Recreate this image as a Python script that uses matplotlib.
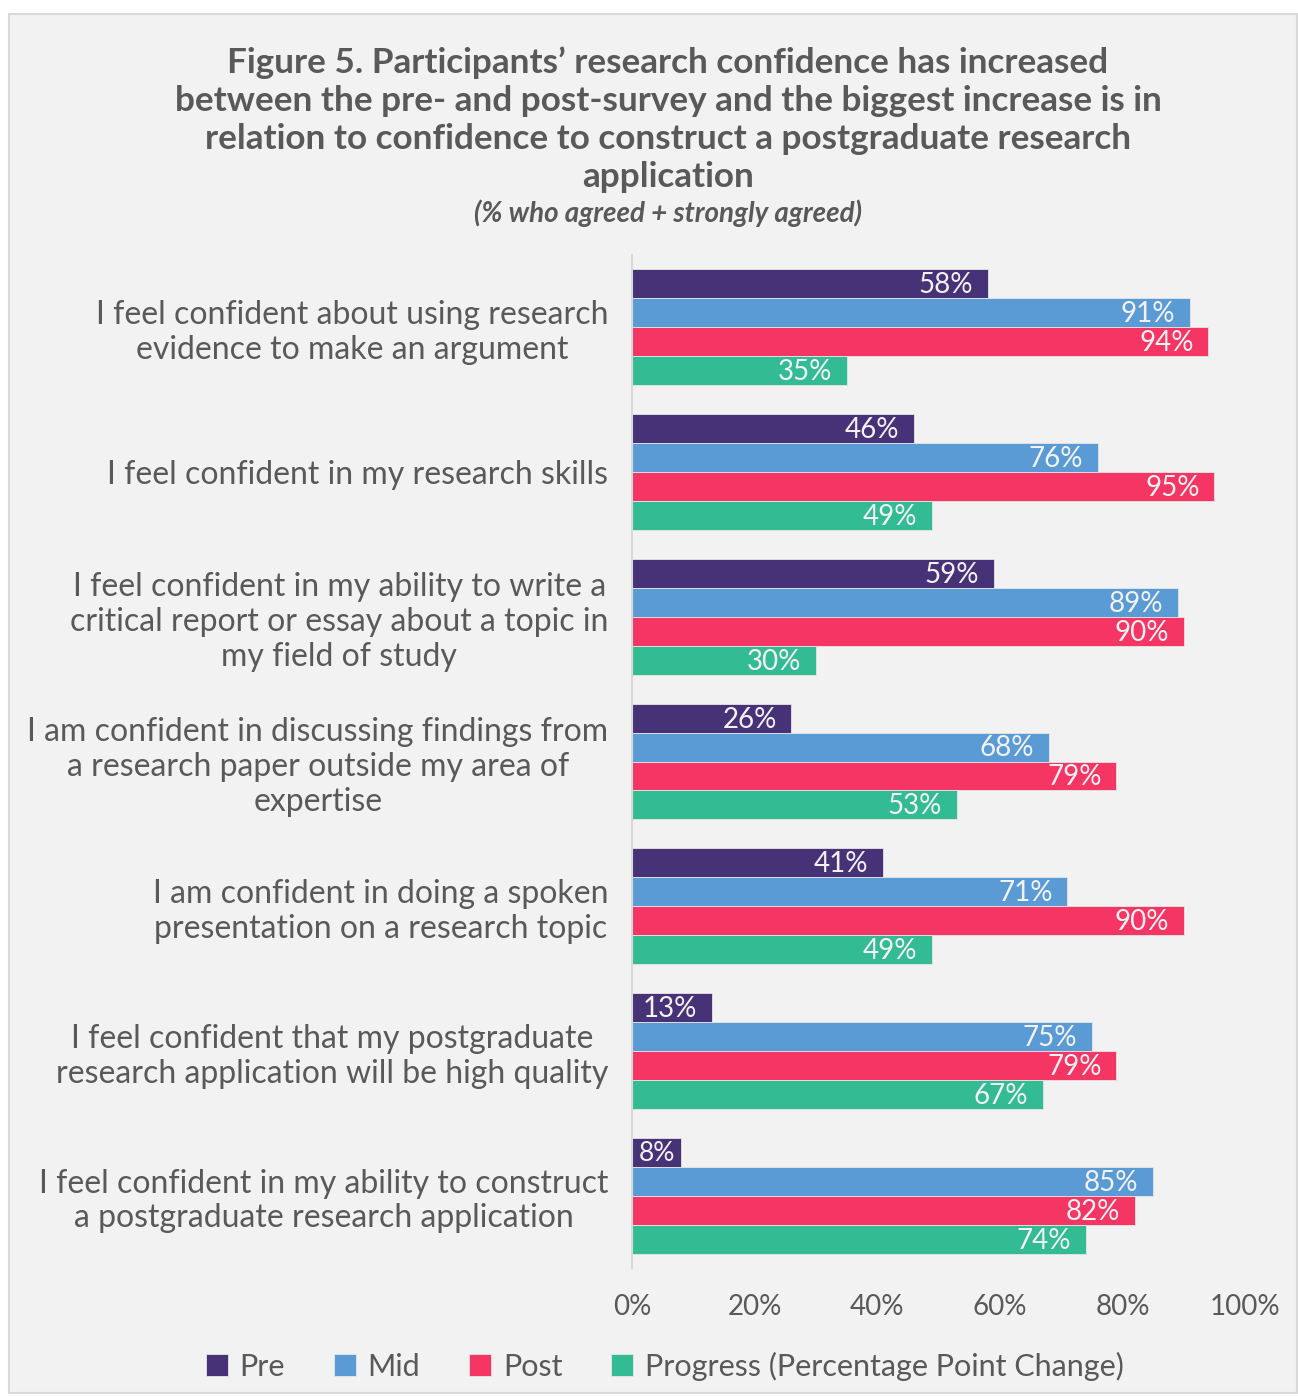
import matplotlib.pyplot as plt
import numpy as np

plt.rcParams['font.family'] = ['Lato', 'DejaVu Sans']

# Survey statements (top to bottom) and % agreed + strongly agreed
statements = [
    "I feel confident about using research\nevidence to make an argument",
    "I feel confident in my research skills",
    "I feel confident in my ability to write a\ncritical report or essay about a topic in\nmy field of study",
    "I am confident in discussing findings from\na research paper outside my area of\nexpertise",
    "I am confident in doing a spoken\npresentation on a research topic",
    "I feel confident that my postgraduate\nresearch application will be high quality",
    "I feel confident in my ability to construct\na postgraduate research application",
]
pre = [58, 46, 59, 26, 41, 13, 8]
mid = [91, 76, 89, 68, 71, 75, 85]
post = [94, 95, 90, 79, 90, 79, 82]
progress = [35, 49, 30, 53, 49, 67, 74]

series_names = ["Pre", "Mid", "Post", "Progress (Percentage Point Change)"]
series_colors = ["#473278", "#5b9bd5", "#f53564", "#33bb94"]
x_ticks = [0, 20, 40, 60, 80, 100]

text_grey = "#595959"
bg = "#f2f2f2"

fig = plt.figure(figsize=(12.98, 13.97), dpi=100)
fig.patch.set_facecolor("white")

# framed panel behind the chart
frame = plt.Rectangle((9 / 1298, 4 / 1397), 1288 / 1298, 1379 / 1397,
                      transform=fig.transFigure, facecolor=bg,
                      edgecolor="#d9d9d9", linewidth=1.5, zorder=-10)
fig.patches.append(frame)

ax = fig.add_axes([632 / 1298, 1 - 1268 / 1397, 613 / 1298, 1013 / 1397])
ax.set_facecolor(bg)
ax.set_zorder(2)

n = len(statements)
bar_h = 0.2
y_base = np.arange(n)
data = [pre, mid, post, progress]
for k, (vals, name, col) in enumerate(zip(data, series_names, series_colors)):
    ys = y_base - 0.3 + k * bar_h
    ax.barh(ys, vals, height=bar_h, color=col, label=name,
            edgecolor="#e6e6e6", linewidth=0.6)
    for y, v in zip(ys, vals):
        # short bars get the label centred so it stays inside
        if v < 12:
            ax.text(v / 2, y + 0.01, f"{v}%", ha="center", va="center",
                    fontsize=19, color="#f2f2f2")
        else:
            ax.text(v - 2.4, y + 0.01, f"{v}%", ha="right", va="center",
                    fontsize=20, color="#f2f2f2")

ax.set_xlim(0, 100)
ax.set_ylim(n - 0.5, -0.5)
ax.set_yticks(y_base)
ax.set_yticklabels(statements, fontsize=23, color=text_grey, linespacing=1.2,
                   ha="right", multialignment="center")
ax.set_xticks(x_ticks)
ax.set_xticklabels([f"{t}%" for t in x_ticks], fontsize=20, color=text_grey)
ax.tick_params(axis="y", length=0, pad=17)
ax.tick_params(axis="x", length=0, pad=19)
for side in ["top", "right", "bottom"]:
    ax.spines[side].set_visible(False)
ax.spines["left"].set_color("#d9d9d9")
ax.spines["left"].set_linewidth(1.5)

fig.text(668 / 1298, 1 - 120 / 1397,
         "Figure 5. Participants\u2019 research confidence has increased\n"
         "between the pre- and post-survey and the biggest increase is in\n"
         "relation to confidence to construct a postgraduate research\n"
         "application",
         ha="center", va="center", fontsize=25.3, fontweight="bold",
         color=text_grey, linespacing=1.23)
fig.text(668 / 1298, 1 - 213 / 1397, "(% who agreed + strongly agreed)",
         ha="center", va="center", fontsize=20, fontweight="bold",
         style="italic", color=text_grey)

handles, labels = ax.get_legend_handles_labels()
leg = fig.legend(handles, labels, loc="center", ncol=4,
                 bbox_to_anchor=(665 / 1298, 1 - 1366 / 1397),
                 frameon=False, fontsize=22, handlelength=0.7,
                 handleheight=0.7, handletextpad=0.4, columnspacing=1.6)
for t in leg.get_texts():
    t.set_color(text_grey)

plt.savefig("out.png", dpi=100, facecolor=fig.get_facecolor())
